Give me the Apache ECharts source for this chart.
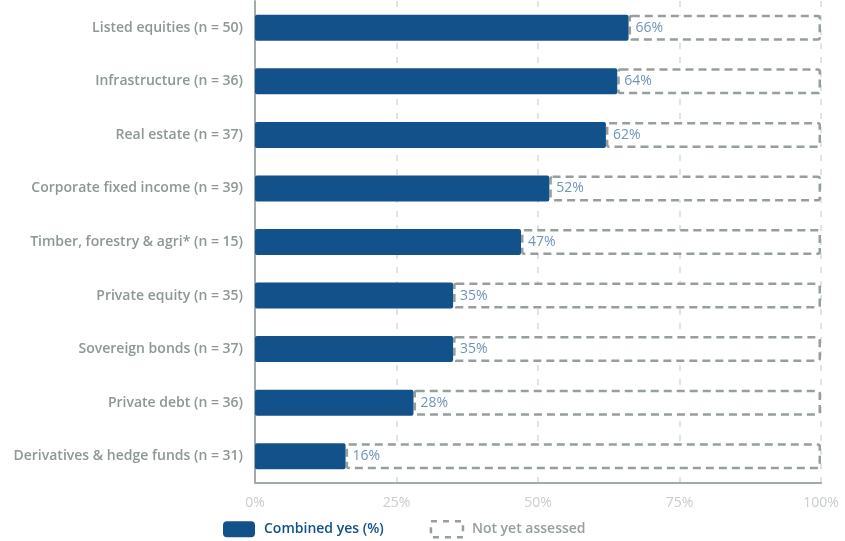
<!DOCTYPE html>
<html>
<head>
<meta charset="utf-8">
<script src="https://cdn.jsdelivr.net/npm/echarts@6/dist/echarts.min.js"></script>
<style>
  html, body { margin: 0; padding: 0; background: #ffffff; }
  #chart { width: 845px; height: 541px; }
</style>
</head>
<body>
<div id="chart"></div>
<script>
// Asset classes, listed top to bottom
const categories = [
  'Listed equities (n = 50)',
  'Infrastructure (n = 36)',
  'Real estate (n = 37)',
  'Corporate fixed income (n = 39)',
  'Timber, forestry & agri* (n = 15)',
  'Private equity (n = 35)',
  'Sovereign bonds (n = 37)',
  'Private debt (n = 36)',
  'Derivatives & hedge funds (n = 31)'
];
// Share answering yes (%)
const combinedYes = [66, 64, 62, 52, 47, 35, 35, 28, 16];
// Share not yet assessed (%)
const notYetAssessed = [34, 36, 38, 48, 53, 65, 65, 72, 84];
const xTicks = [0, 25, 50, 75, 100];

const FONT = '"Open Sans", Lato, sans-serif';
const BLUE = '#12518a';
const GREY = '#959f9e';

const chart = echarts.init(document.getElementById('chart'));
chart.setOption({
  animation: false,
  textStyle: { fontFamily: FONT },
  grid: { left: 255, right: 24, top: 1, bottom: 58, containLabel: false },
  legend: {
    top: 515,
    left: 218,
    itemGap: 46,
    itemWidth: 32,
    itemHeight: 16,
    data: [
      {
        name: 'Combined yes (%)',
        icon: 'roundRect',
        textStyle: { color: BLUE, fontWeight: 600 }
      },
      {
        name: 'Not yet assessed',
        icon: 'rect',
        itemStyle: { color: '#ffffff', borderColor: GREY, borderWidth: 2.5, borderType: [6, 6] },
        textStyle: { color: GREY, fontWeight: 600 }
      }
    ],
    textStyle: { fontSize: 14, fontFamily: FONT, padding: [0, 0, 0, 4] }
  },
  xAxis: {
    type: 'value',
    min: xTicks[0],
    max: xTicks[xTicks.length - 1],
    interval: 25,
    axisLine: { show: true, lineStyle: { color: '#a3abaa', width: 2 } },
    axisTick: { show: false },
    axisLabel: { color: '#c9cdcd', fontSize: 14, margin: 13, formatter: v => v + '%' },
    splitLine: { show: true, lineStyle: { color: '#d9dcdc', type: [6, 8], width: 1.5 } }
  },
  yAxis: {
    type: 'category',
    data: categories,
    inverse: true,
    axisLine: { show: true, lineStyle: { color: '#a3abaa', width: 2 } },
    axisTick: { show: false },
    axisLabel: { color: '#8c9796', fontSize: 14, fontWeight: 600, margin: 12 }
  },
  series: [
    {
      name: 'Combined yes (%)',
      type: 'bar',
      stack: 'total',
      barWidth: 26,
      data: combinedYes,
      itemStyle: { color: BLUE, borderRadius: 2 },
      label: {
        show: true,
        position: 'right',
        distance: 7,
        color: '#6f93b9',
        fontSize: 14,
        formatter: p => p.value + '%'
      },
      z: 3
    },
    {
      name: 'Not yet assessed',
      type: 'bar',
      stack: 'total',
      barWidth: 26,
      data: notYetAssessed,
      itemStyle: {
        color: '#ffffff',
        borderColor: GREY,
        borderWidth: 2.5,
        borderType: [8, 5],
        borderRadius: 2
      },
      z: 2
    }
  ]
});
</script>
</body>
</html>
